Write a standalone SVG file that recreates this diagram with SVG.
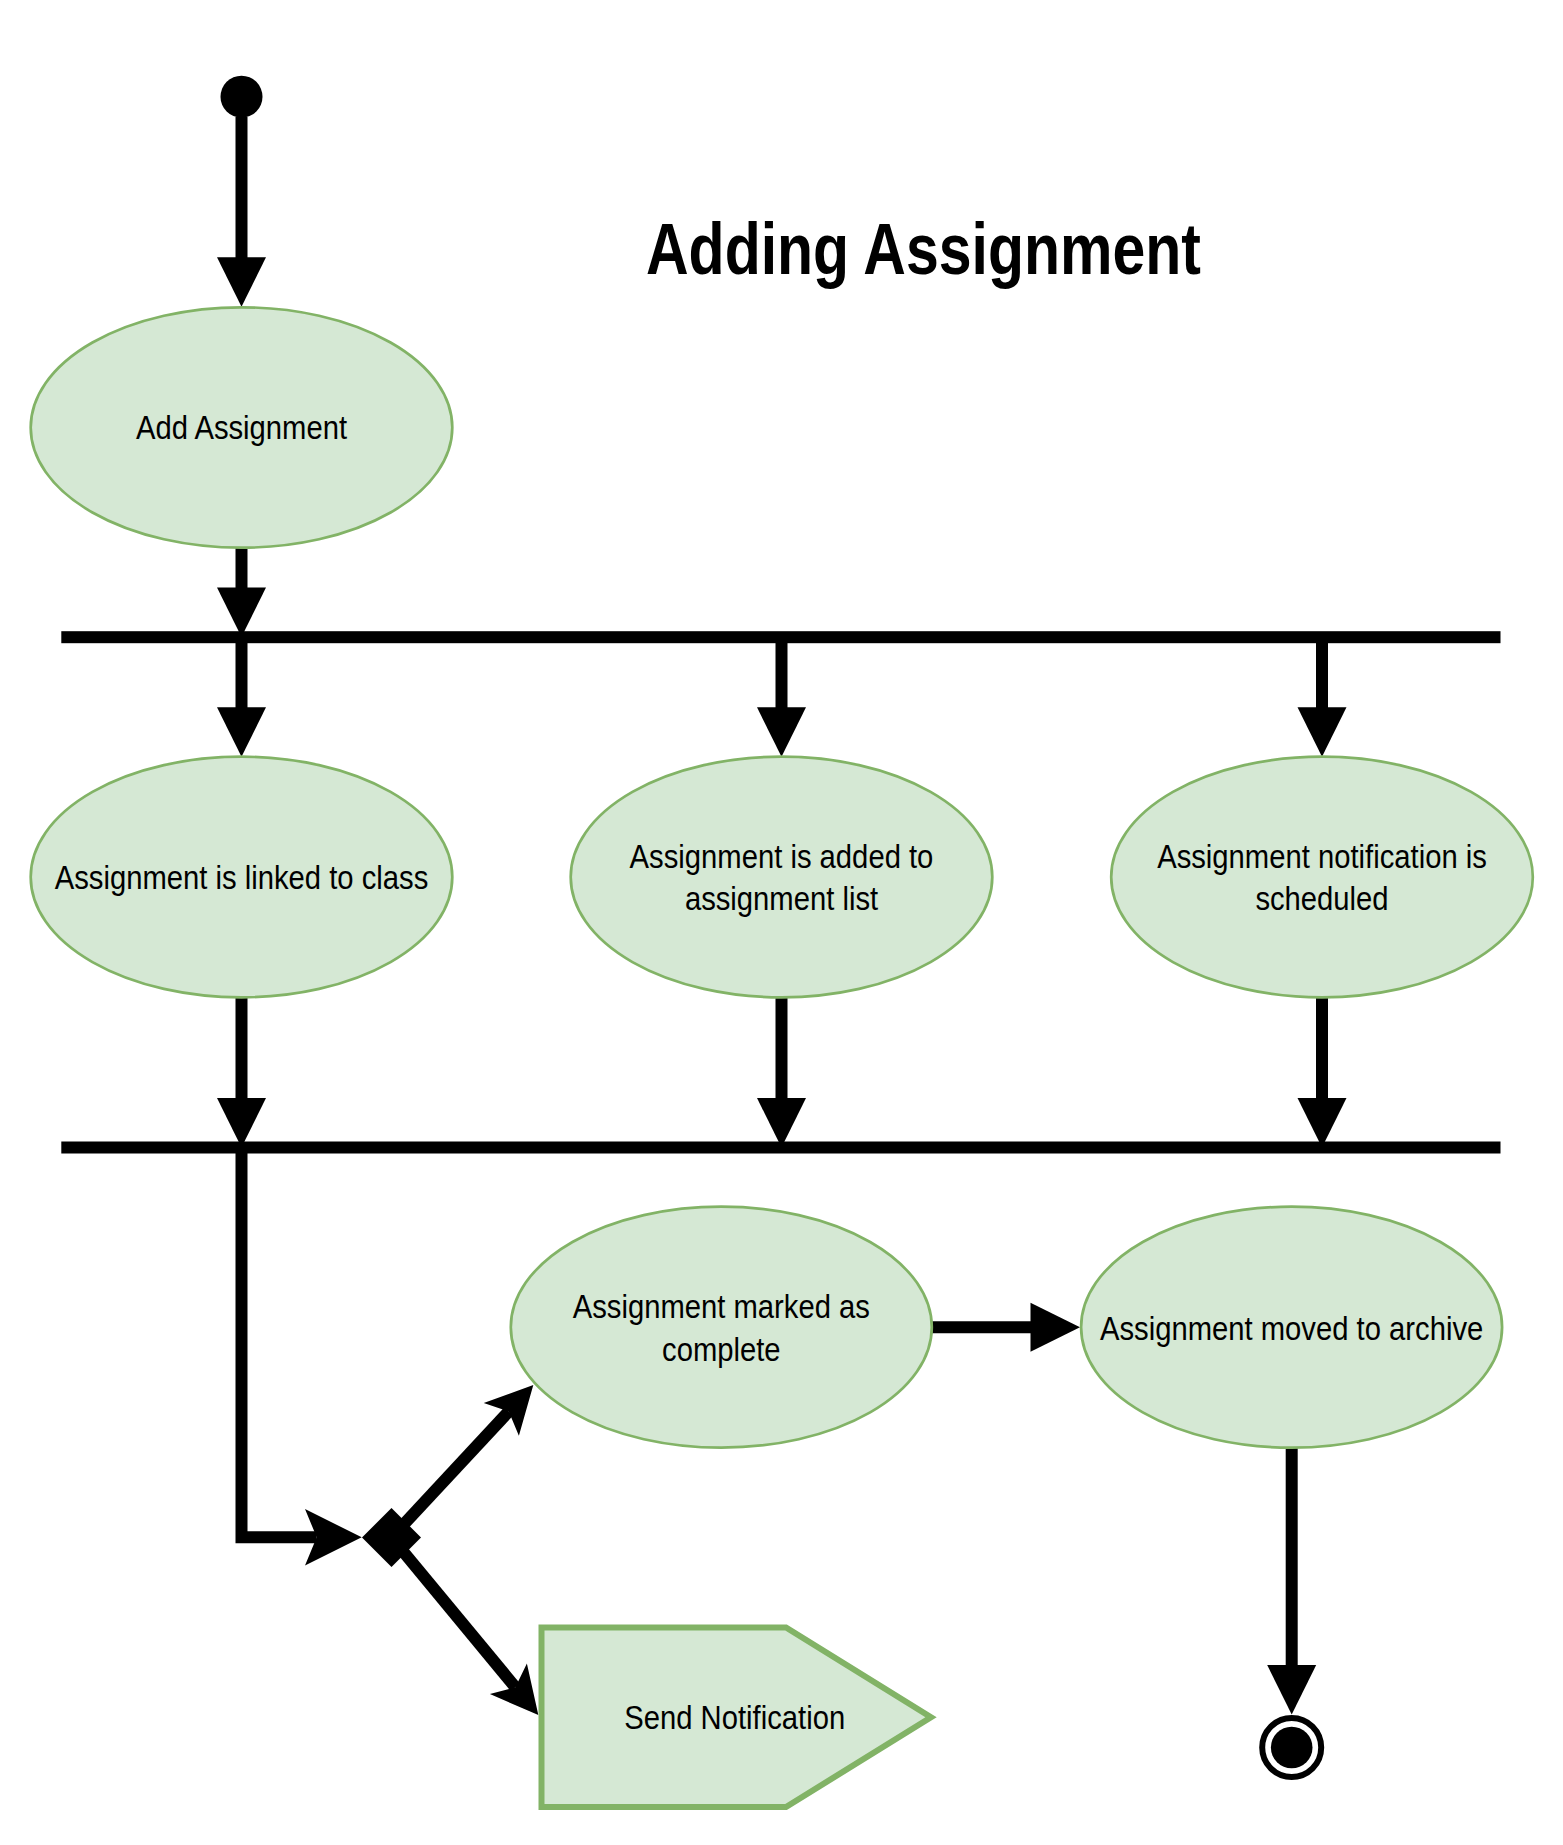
<svg xmlns="http://www.w3.org/2000/svg" width="1563" height="1845" viewBox="0 0 1563 1845">
<style>
.act{fill:#d5e8d4;stroke:#82b366;stroke-width:2.7}
.sig{fill:#d5e8d4;stroke:#82b366;stroke-width:6;stroke-linejoin:miter}
.lbl{font-family:"Liberation Sans",Arial,Helvetica,sans-serif;font-size:34px;fill:#000;text-anchor:middle}
.title{font-family:"Liberation Sans",Arial,Helvetica,sans-serif;font-size:72px;font-weight:bold;fill:#000}
.edge{fill:none;stroke:#000;stroke-width:12;stroke-linejoin:miter;stroke-linecap:butt}
.bar{fill:#000}
</style>
<defs>
<marker id="block" markerUnits="userSpaceOnUse" markerWidth="60" markerHeight="60" viewBox="-2 -30 60 60" refX="0" refY="0" orient="auto" overflow="visible">
<path d="M-1,-24.5 L48.5,0 L-1,24.5 Z" fill="#000"/>
</marker>
<marker id="classic" markerUnits="userSpaceOnUse" markerWidth="60" markerHeight="60" viewBox="-15 -30 60 60" refX="0" refY="0" orient="auto" overflow="visible">
<path d="M-11,-24 L36,0 L-11,24 L0,0 Z" fill="#000"/>
</marker>
<marker id="classicL" markerUnits="userSpaceOnUse" markerWidth="70" markerHeight="70" viewBox="-15 -35 70 70" refX="0" refY="0" orient="auto" overflow="visible">
<path d="M-11.7,-28.3 L45,0 L-11.7,28.3 L0,0 Z" fill="#000"/>
</marker>
</defs>
<rect width="1563" height="1845" fill="#fff"/>

<g id="title">
<text class="title" x="646" y="274.2" textLength="555" lengthAdjust="spacingAndGlyphs">Adding Assignment</text>
</g>

<g id="connectors">
<path class="edge" d="M241.5,117 V258.3" marker-end="url(#block)"/>
<path class="edge" d="M241.5,547.7 V588.5" marker-end="url(#block)"/>
<path class="edge" d="M241.5,637 V708.3" marker-end="url(#block)"/>
<path class="edge" d="M781.5,637 V708.3" marker-end="url(#block)"/>
<path class="edge" d="M1322,637 V708.3" marker-end="url(#block)"/>
<path class="edge" d="M241.5,997.3 V1099" marker-end="url(#block)"/>
<path class="edge" d="M781.5,997.3 V1099" marker-end="url(#block)"/>
<path class="edge" d="M1322,997.3 V1099" marker-end="url(#block)"/>
<path class="edge" d="M241.5,1147.5 V1537.3 H316.7" marker-end="url(#classicL)"/>
<path class="edge" d="M391.5,1537.5 L508.8,1411.4" marker-end="url(#classic)"/>
<path class="edge" d="M391.5,1537.5 L515.4,1687.3" marker-end="url(#classic)"/>
<path class="edge" d="M931.8,1327.2 H1031.5" marker-end="url(#block)"/>
<path class="edge" d="M1291.7,1447.7 V1666" marker-end="url(#block)"/>
</g>

<g id="start">
<circle cx="241.5" cy="96.7" r="21" fill="#000"/>
</g>

<g id="add-assignment">
<ellipse class="act" cx="241.5" cy="427.5" rx="210.8" ry="120.2"/>
<text class="lbl" transform="translate(241.5,439.3) scale(0.86,1)">Add Assignment</text>
</g>

<g id="fork">
<rect class="bar" x="61.3" y="631.2" width="1439.2" height="12"/>
</g>

<g id="linked-to-class">
<ellipse class="act" cx="241.5" cy="877" rx="210.8" ry="120.3"/>
<text class="lbl" transform="translate(241.5,889.3) scale(0.86,1)">Assignment is linked to class</text>
</g>

<g id="added-to-list">
<ellipse class="act" cx="781.5" cy="877" rx="210.8" ry="120.3"/>
<text class="lbl" transform="translate(781.5,868.1) scale(0.86,1)"><tspan x="0" y="0">Assignment is added to</tspan><tspan x="0" y="42.4">assignment list</tspan></text>
</g>

<g id="notification-scheduled">
<ellipse class="act" cx="1322" cy="877" rx="210.8" ry="120.3"/>
<text class="lbl" transform="translate(1322,868.1) scale(0.86,1)"><tspan x="0" y="0">Assignment notification is</tspan><tspan x="0" y="42.4">scheduled</tspan></text>
</g>

<g id="join">
<rect class="bar" x="61.3" y="1141.5" width="1439.2" height="12"/>
</g>

<g id="marked-complete">
<ellipse class="act" cx="721.3" cy="1327.2" rx="210.5" ry="120.5"/>
<text class="lbl" transform="translate(721.3,1318.3) scale(0.86,1)"><tspan x="0" y="0">Assignment marked as</tspan><tspan x="0" y="42.4">complete</tspan></text>
</g>

<g id="moved-to-archive">
<ellipse class="act" cx="1291.6" cy="1327.2" rx="210.5" ry="120.5"/>
<text class="lbl" transform="translate(1291.6,1339.5) scale(0.86,1)">Assignment moved to archive</text>
</g>

<g id="decision">
<polygon points="362,1537.5 391.5,1508 421,1537.5 391.5,1567" fill="#000"/>
</g>

<g id="send-notification">
<path class="sig" d="M541.5,1627.5 H786 L931,1717.3 L786,1807 H541.5 Z"/>
<text class="lbl" transform="translate(734.7,1729) scale(0.86,1)">Send Notification</text>
</g>

<g id="end">
<circle cx="1291.7" cy="1747.5" r="29.5" fill="#fff" stroke="#000" stroke-width="6"/>
<circle cx="1291.7" cy="1747.5" r="20.8" fill="#000"/>
</g>
</svg>
